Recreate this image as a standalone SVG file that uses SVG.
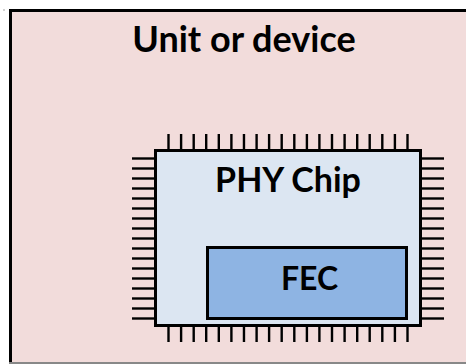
<svg xmlns="http://www.w3.org/2000/svg" width="466" height="364" viewBox="0 0 466 364">
<style>
.lbl{font-family:Lato,"Liberation Sans",sans-serif;font-weight:bold;fill:#000;text-anchor:middle}
.box{stroke:#000;stroke-width:3}
.pin{stroke:#000;stroke-width:2.4}
</style>
<defs>
<line id="pv" class="pin" x1="0" y1="0" x2="0" y2="15"/>
<line id="ph" class="pin" x1="0" y1="0" x2="22" y2="0"/>
</defs>
<rect width="466" height="364" fill="#fff"/>
<circle cx="4" cy="10" r="0.8" fill="#999"/>
<g id="unit">
<rect class="box" x="10.5" y="10.5" width="470" height="360" fill="#f2dcdb"/>
<line x1="9" y1="363" x2="466" y2="363" stroke="#888" stroke-width="2"/>
<text class="lbl" x="244" y="52" font-size="36">Unit or device</text>
</g>
<g id="phy-chip">
<g id="pins-top">
<use href="#pv" x="168.5" y="134"/><use href="#pv" x="181.1" y="134"/><use href="#pv" x="193.7" y="134"/><use href="#pv" x="206.2" y="134"/><use href="#pv" x="218.8" y="134"/><use href="#pv" x="231.4" y="134"/><use href="#pv" x="243.97" y="134"/><use href="#pv" x="256.6" y="134"/><use href="#pv" x="269.1" y="134"/><use href="#pv" x="281.7" y="134"/><use href="#pv" x="294.3" y="134"/><use href="#pv" x="306.9" y="134"/><use href="#pv" x="319.4" y="134"/><use href="#pv" x="332.0" y="134"/><use href="#pv" x="344.6" y="134"/><use href="#pv" x="357.2" y="134"/><use href="#pv" x="369.7" y="134"/><use href="#pv" x="382.3" y="134"/><use href="#pv" x="394.9" y="134"/><use href="#pv" x="407.5" y="134"/>
</g>
<g id="pins-bottom">
<use href="#pv" x="168.5" y="327"/><use href="#pv" x="181.1" y="327"/><use href="#pv" x="193.7" y="327"/><use href="#pv" x="206.2" y="327"/><use href="#pv" x="218.8" y="327"/><use href="#pv" x="231.4" y="327"/><use href="#pv" x="243.97" y="327"/><use href="#pv" x="256.6" y="327"/><use href="#pv" x="269.1" y="327"/><use href="#pv" x="281.7" y="327"/><use href="#pv" x="294.3" y="327"/><use href="#pv" x="306.9" y="327"/><use href="#pv" x="319.4" y="327"/><use href="#pv" x="332.0" y="327"/><use href="#pv" x="344.6" y="327"/><use href="#pv" x="357.2" y="327"/><use href="#pv" x="369.7" y="327"/><use href="#pv" x="382.3" y="327"/><use href="#pv" x="394.9" y="327"/><use href="#pv" x="407.5" y="327"/>
</g>
<g id="pins-left">
<use href="#ph" x="132" y="158.5"/><use href="#ph" x="132" y="168.5"/><use href="#ph" x="132" y="178.5"/><use href="#ph" x="132" y="188.5"/><use href="#ph" x="132" y="198.5"/><use href="#ph" x="132" y="208.5"/><use href="#ph" x="132" y="218.5"/><use href="#ph" x="132" y="228.5"/><use href="#ph" x="132" y="238.5"/><use href="#ph" x="132" y="248.5"/><use href="#ph" x="132" y="258.5"/><use href="#ph" x="132" y="268.5"/><use href="#ph" x="132" y="278.5"/><use href="#ph" x="132" y="288.5"/><use href="#ph" x="132" y="298.5"/><use href="#ph" x="132" y="308.5"/><use href="#ph" x="132" y="318.5"/>
</g>
<g id="pins-right">
<use href="#ph" x="422" y="158.5"/><use href="#ph" x="422" y="168.5"/><use href="#ph" x="422" y="178.5"/><use href="#ph" x="422" y="188.5"/><use href="#ph" x="422" y="198.5"/><use href="#ph" x="422" y="208.5"/><use href="#ph" x="422" y="218.5"/><use href="#ph" x="422" y="228.5"/><use href="#ph" x="422" y="238.5"/><use href="#ph" x="422" y="248.5"/><use href="#ph" x="422" y="258.5"/><use href="#ph" x="422" y="268.5"/><use href="#ph" x="422" y="278.5"/><use href="#ph" x="422" y="288.5"/><use href="#ph" x="422" y="298.5"/><use href="#ph" x="422" y="308.5"/><use href="#ph" x="422" y="318.5"/>
</g>
<rect class="box" x="155.5" y="150.5" width="265" height="175" fill="#dce6f2"/>
<text class="lbl" x="288" y="192" font-size="34">PHY Chip</text>
</g>
<g id="fec">
<rect class="box" x="207.5" y="247.5" width="199" height="71" fill="#8eb4e3"/>
<text class="lbl" x="309.5" y="290" font-size="32">FEC</text>
</g>
<g id="connectors"/>
</svg>
